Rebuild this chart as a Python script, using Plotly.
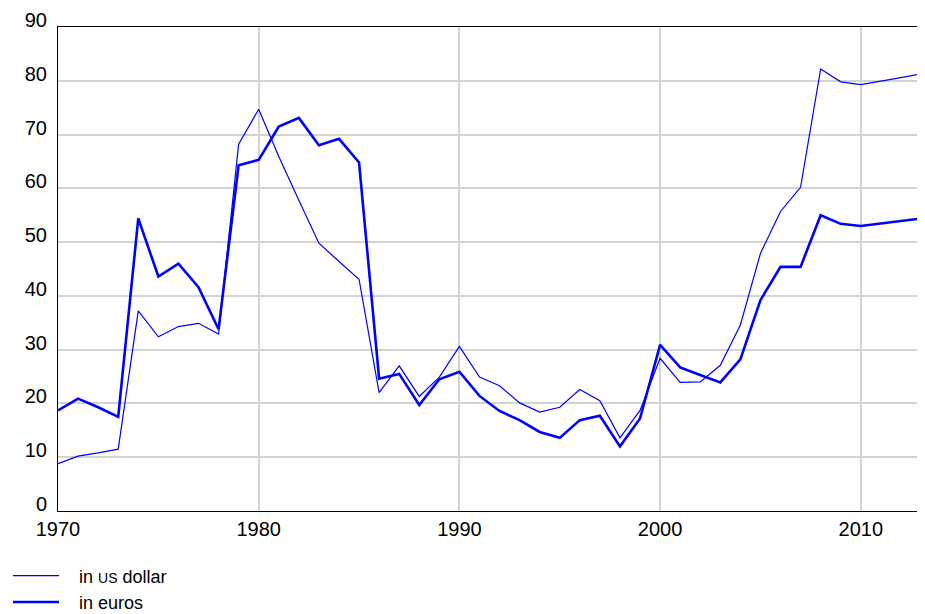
import plotly.graph_objects as go

years = list(range(1970, 2014))
usd = [8.8, 10.2, 10.8, 11.5, 37.2, 32.4, 34.3, 34.9, 32.9, 68.2,
       74.7, 65.9, 57.8, 49.8, 46.4, 43.1, 22.0, 27.0, 21.3, 24.9,
       30.6, 24.9, 23.3, 20.1, 18.4, 19.3, 22.6, 20.5, 13.6, 18.7,
       28.4, 23.9, 24.0, 27.1, 34.6, 47.9, 55.7, 60.2, 82.2, 79.8,
       79.3, 79.9, 80.6, 81.3]
eur = [18.7, 20.9, 19.3, 17.5, 54.4, 43.6, 46.0, 41.6, 33.8, 64.3,
       65.3, 71.5, 73.1, 68.0, 69.2, 64.8, 24.6, 25.5, 19.7, 24.5,
       25.9, 21.4, 18.6, 16.9, 14.7, 13.6, 16.9, 17.7, 12.0, 17.2,
       30.9, 26.7, 25.3, 23.9, 28.2, 39.2, 45.4, 45.4, 55.0, 53.4,
       53.0, 53.5, 54.0, 54.4]
x_ticks = [1970, 1980, 1990, 2000, 2010]
y_ticks = [0, 10, 20, 30, 40, 50, 60, 70, 80, 90]

fig = go.Figure()
fig.add_trace(go.Scatter(x=years, y=usd, mode="lines",
                         name="&nbsp;&nbsp;&nbsp;in <span style='font-size:14px'>US</span> dollar",
                         line=dict(color="#0000ff", width=1.2)))
fig.add_trace(go.Scatter(x=years, y=eur, mode="lines",
                         name="&nbsp;&nbsp;&nbsp;in euros",
                         line=dict(color="#0000ff", width=2.6)))

font = "Liberation Sans, Arial, Helvetica, sans-serif"
fig.update_layout(
    width=917, height=606,
    margin=dict(l=50, r=4, t=19, b=103, autoexpand=False),
    paper_bgcolor="white", plot_bgcolor="white",
    font=dict(family=font, size=20, color="black"),
    showlegend=True,
    legend=dict(xref="container", yref="paper", x=0.0, y=-0.226,
                xanchor="left", yanchor="bottom", itemwidth=46,
                font=dict(size=18), tracegroupgap=0,
                bgcolor="rgba(0,0,0,0)"),
    xaxis=dict(range=[1970, 2013], tickvals=x_ticks,
               showgrid=True, gridcolor="#d3d3d3", gridwidth=1.5,
               showline=True, linecolor="black", linewidth=1, mirror=True,
               zeroline=False, ticks="", tickfont=dict(size=20)),
    yaxis=dict(range=[0, 90], tickvals=y_ticks,
               ticklabelshift=-7, ticklabelstandoff=6,
               showgrid=True, gridcolor="#d3d3d3", gridwidth=1.5,
               showline=True, linecolor="black", linewidth=1, mirror=True,
               zeroline=False, ticks="", tickfont=dict(size=20)),
)

fig.write_html("out.html")
